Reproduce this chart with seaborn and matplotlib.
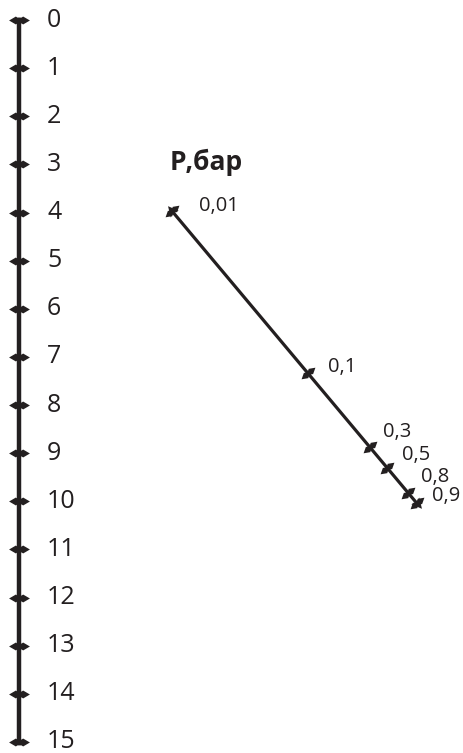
import numpy as np
import pandas as pd
import matplotlib
matplotlib.use("Agg")
import matplotlib.pyplot as plt
import seaborn as sns
from matplotlib.path import Path
from matplotlib.markers import MarkerStyle
from matplotlib.transforms import Affine2D

# vertical scale
scale_values = list(range(0, 16))
# pressure scale: labels and where they fall on the vertical scale
p_labels = ["0,01", "0,1", "0,3", "0,5", "0,8", "0,9"]
p_positions = [3.97, 7.34, 8.87, 9.31, 9.83, 10.04]
title = "Р,бар"

# label offsets in pixels (layout only)
p_offsets = [(27, 5), (20, 6), (13, 15), (15, 13), (13, 16), (15, 7)]

sns.set_theme(style="white")
plt.rcParams['font.family'] = ['Open Sans', 'DejaVu Sans']

PX = 48.13  # pixels per scale unit
fig = plt.figure(figsize=(4.64, 7.53), dpi=100)
ax = fig.add_axes([0, 0, 1, 1])
ax.set_xlim(-19 / PX, (464 - 19) / PX)
ax.set_ylim((753 - 20) / PX, -20 / PX)
ax.axis("off")


def make_path(verts):
    codes = [Path.MOVETO] + [Path.LINETO] * (len(verts) - 2) + [Path.CLOSEPOLY]
    return Path(verts, codes)


# double arrow tick shape
tick_path = make_path([(-1, 0), (-0.35, 0.38), (-0.2, 0.28), (0.2, 0.28),
                       (0.35, 0.38), (1, 0), (0.35, -0.38), (0.2, -0.28),
                       (-0.2, -0.28), (-0.35, -0.38), (-1, 0)])
arrow_path = make_path([(1, 0), (-0.5, 0.75), (-0.2, 0), (-0.5, -0.75), (1, 0)])
h_tick = MarkerStyle(tick_path)
d_tick = MarkerStyle(tick_path, transform=Affine2D().rotate_deg(40))
start_arrow = MarkerStyle(arrow_path, transform=Affine2D().rotate_deg(130))
end_arrow = MarkerStyle(arrow_path, transform=Affine2D().rotate_deg(-50))

color = "#231f20"

# vertical axis
df_v = pd.DataFrame({"x": [0] * len(scale_values), "y": scale_values})
sns.lineplot(data=df_v, x="x", y="y", sort=False, estimator=None, ax=ax,
             color=color, linewidth=3.2, marker=h_tick, markersize=15,
             markeredgewidth=0, markerfacecolor=color)
for v in scale_values:
    ax.text(28 / PX, v, str(v), ha="left", va="center", fontsize=18, color=color)

# pressure line
x0, y0, slope = (172 - 19) / PX, 3.97, 0.838
px_x = [x0 + slope * (p - y0) for p in p_positions]
df_p = pd.DataFrame({"x": px_x, "y": p_positions})
sns.lineplot(data=df_p, x="x", y="y", sort=False, estimator=None, ax=ax,
             color=color, linewidth=2.3, marker=d_tick, markersize=13,
             markeredgewidth=0, markerfacecolor=color)
ax.plot(px_x[0], p_positions[0], marker=start_arrow, markersize=10,
        color=color, markeredgewidth=0, linestyle="none")
ax.plot(px_x[-1], p_positions[-1], marker=end_arrow, markersize=10,
        color=color, markeredgewidth=0, linestyle="none")
for lab, xx, yy, (dx, dy) in zip(p_labels, px_x, p_positions, p_offsets):
    ax.annotate(lab, (xx, yy), xytext=(dx, dy), textcoords="offset pixels",
                ha="left", va="center", fontsize=14.5, color=color)

ax.text((170 - 19) / PX, (170 - 20) / PX, title, ha="left", va="baseline",
        fontsize=19, fontweight="bold", color=color)

fig.savefig("out.png", dpi=100)
